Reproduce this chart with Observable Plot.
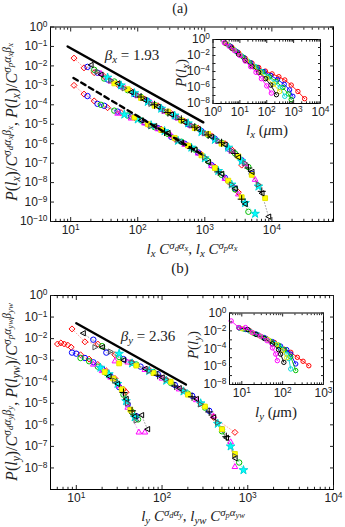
<!DOCTYPE html>
<html><head><meta charset="utf-8">
<script src="https://cdn.jsdelivr.net/npm/d3@7"></script>
<script src="https://cdn.jsdelivr.net/npm/@observablehq/plot@0.6"></script>
<style>
html,body{margin:0;padding:0;background:#fff;}
#wrap{position:relative;width:345px;height:527px;overflow:hidden;background:#fff;}
#wrap svg{position:absolute;overflow:visible;}
.lab{position:absolute;white-space:nowrap;font-family:"Liberation Serif","DejaVu Serif",serif;color:#222;line-height:1;}
.lab i{font-style:italic;}
.lab sub,.lab sup{font-size:72%;line-height:0;position:relative;vertical-align:baseline;}
.lab sup{top:-0.5em;}
.lab sub{top:0.3em;}
.lab sup sub{top:0.25em;font-size:78%;}
</style></head>
<body><div id="wrap"></div>
<script>
// ---------------- DATA: panel (a), upper collapse (sigma_p) ----------------
const aU_red = [[11.2,2.51e-2],[15.8,7.94e-3],[22.4,4.47e-3],[31.6,2.82e-3],[50.1,1.12e-3],[79.4,5.01e-4],[126,2.0e-4],[200,8.91e-5],[316,3.55e-5],[501,1.41e-5],[794,6.31e-6],[1259,2.51e-6],[1995,1.0e-6],[2512,5.01e-7],[3548,7.94e-8]];
const aU_blue = [[17.8,8.91e-3],[25.1,4.47e-3],[35.5,2.0e-3],[56.2,8.91e-4],[89.1,3.55e-4],[141,1.58e-4],[224,6.31e-5],[355,2.51e-5],[562,1.0e-5],[891,4.47e-6],[1413,1.78e-6],[2239,5.62e-7],[3548,1.41e-7],[5012,2.82e-8]];
const aU_green = [[22.4,6.31e-3],[31.6,2.24e-3],[44.7,1.58e-3],[70.8,5.62e-4],[112,2.51e-4],[178,1.0e-4],[282,3.98e-5],[447,1.58e-5],[708,7.08e-6],[1122,2.82e-6],[1778,1.12e-6],[2818,3.16e-7],[4467,6.31e-8]];
const aU_magenta = [[28.2,3.98e-3],[39.8,1.58e-3],[63.1,7.94e-4],[100,2.82e-4],[158,1.26e-4],[251,4.47e-5],[398,2.0e-5],[631,7.94e-6],[1000,3.16e-6],[1585,1.26e-6],[2512,3.98e-7],[3981,8.91e-8],[5623,1.41e-8]];
const aU_cyan = [[35.5,2.51e-3],[56.2,1.0e-3],[89.1,3.98e-4],[141,1.41e-4],[224,6.31e-5],[355,2.82e-5],[562,1.12e-5],[891,3.98e-6],[1413,1.58e-6],[2239,6.31e-7],[3548,1.26e-7],[6310,6.31e-9]];
const aU_yellow = [[44.7,1.26e-3],[70.8,6.31e-4],[112,2.24e-4],[178,8.91e-5],[282,4.47e-5],[447,1.58e-5],[708,6.31e-6],[1122,3.16e-6],[1778,1.0e-6],[3162,2.24e-7],[5012,2.51e-8],[7943,1.58e-9]];
const aU_blackL = [[20.0,1.12e-2],[28.2,3.55e-3],[50.1,1.26e-3],[79.4,4.47e-4],[126,1.78e-4],[200,7.94e-5],[316,3.16e-5],[501,1.26e-5],[794,5.62e-6],[1259,2.24e-6],[1995,8.91e-7],[3162,2.0e-7],[5012,3.55e-8],[7079,2.82e-9],[8913,1.78e-10]];
const aU_grayR = [[25.1,5.01e-3],[39.8,1.78e-3],[63.1,7.08e-4],[100,3.16e-4],[158,1.12e-4],[251,5.01e-5],[398,2.24e-5],[631,8.91e-6],[1000,3.55e-6],[1585,1.41e-6],[2512,4.47e-7],[3981,1.0e-7],[6310,7.94e-9]];
const aU_plus = [[112,2.51e-4],[178,1.0e-4],[282,3.98e-5],[447,1.78e-5],[708,7.08e-6],[1122,2.82e-6],[1778,1.12e-6],[2818,3.16e-7],[4467,5.62e-8],[7079,3.55e-9]];
// ---------------- panel (a), lower collapse (sigma_d) ----------------
const aL_red = [[11.2,1.0e-3],[15.8,3.55e-4],[22.4,1.58e-4],[35.5,7.08e-5],[56.2,3.98e-5],[89.1,2.24e-5],[141,1.0e-5],[224,5.62e-6],[355,1.78e-6],[562,7.94e-7],[891,2.82e-7],[1413,6.31e-8],[2239,1.12e-8],[3162,3.16e-9]];
const aL_blue = [[17.8,2.82e-4],[25.1,1.12e-4],[31.6,8.91e-5],[50.1,4.47e-5],[79.4,2.51e-5],[126,1.26e-5],[200,6.31e-6],[316,2.24e-6],[501,1.0e-6],[794,3.55e-7],[1259,7.94e-8],[1995,1.78e-8],[2818,5.01e-9]];
const aL_green = [[28.2,1.0e-4],[44.7,5.01e-5],[70.8,2.82e-5],[112,1.58e-5],[178,7.08e-6],[282,3.16e-6],[447,1.26e-6],[708,5.01e-7],[1122,1.26e-7],[1778,2.51e-8],[2818,4.47e-9],[4467,3.16e-10]];
const aL_magenta = [[50.1,3.55e-5],[79.4,2.0e-5],[126,1.12e-5],[200,5.62e-6],[316,2.51e-6],[501,8.91e-7],[794,3.16e-7],[1259,7.08e-8],[1995,1.58e-8],[3162,2.51e-9]];
const aL_cyan = [[63.1,3.16e-5],[100,1.78e-5],[158,8.91e-6],[251,4.47e-6],[398,1.41e-6],[631,6.31e-7],[1000,1.78e-7],[1585,3.98e-8],[2512,7.94e-9],[3981,8.91e-10],[5623,2.51e-10]];
const aL_yellow = [[89.1,2.24e-5],[141,1.0e-5],[224,5.01e-6],[355,2.0e-6],[562,7.94e-7],[891,2.51e-7],[1413,5.62e-8],[2239,1.26e-8],[3548,1.78e-9]];
const aL_blackL = [[112,1.58e-5],[178,7.94e-6],[282,3.55e-6],[447,1.12e-6],[708,5.01e-7],[1122,1.12e-7],[1778,2.82e-8],[2818,5.01e-9],[3981,7.94e-10]];
const aL_grayR = [[158,7.94e-6],[398,1.58e-6],[1000,2.0e-7],[2512,7.94e-9]];
const aL_plus = [[251,3.98e-6],[631,5.62e-7],[1585,3.55e-8],[3548,1.41e-9]];
// fitted power laws in (a)
const fitA_solid_x = [9, 950];
const fitA_solid_y = [0.1, 1.25e-5];
const fitA_dash_x = [11, 960];
const fitA_dash_y = [2.4e-3, 2.5e-7];
// ---------------- DATA: panel (b), upper collapse ----------------
const bU_red = [[8.91,2.82e-2],[12.6,7.08e-3],[17.8,5.62e-3],[28.2,1.78e-3],[44.7,7.94e-4],[70.8,3.55e-4],[112,1.26e-4],[178,3.98e-5],[282,1.0e-5],[398,2.24e-6],[708,4.47e-7]];
const bU_blue = [[15.8,8.91e-3],[22.4,2.24e-3],[35.5,1.12e-3],[56.2,5.01e-4],[89.1,2.24e-4],[141,7.08e-5],[224,2.24e-5],[355,4.47e-6],[501,6.31e-7]];
const bU_green = [[20.0,4.47e-3],[31.6,1.41e-3],[50.1,6.31e-4],[79.4,2.82e-4],[126,8.91e-5],[200,2.82e-5],[316,6.31e-6],[501,5.01e-7],[794,1.78e-8]];
const bU_magenta = [[28.2,8.91e-4],[39.8,7.94e-4],[63.1,3.55e-4],[100,1.41e-4],[158,4.47e-5],[251,1.41e-5],[398,2.51e-6],[631,1.58e-7],[708,1.12e-8]];
const bU_cyan = [[31.6,2.0e-3],[44.7,7.08e-4],[70.8,3.16e-4],[112,1.12e-4],[178,3.55e-5],[282,1.0e-5],[447,1.12e-6],[631,1.0e-7],[891,7.94e-9]];
const bU_yellow = [[31.6,7.08e-4],[50.1,5.62e-4],[79.4,2.51e-4],[126,1.0e-4],[200,2.51e-5],[316,7.08e-6],[501,6.31e-7],[708,4.47e-8]];
const bU_blackL = [[12.0,1.78e-2],[20.0,3.98e-3],[35.5,1.0e-3],[63.1,3.98e-4],[100,1.58e-4],[158,5.01e-5],[251,1.58e-5],[398,2.24e-6],[562,2.51e-7],[708,2.82e-8]];
const bU_grayR = [[16.6,3.98e-3],[25.1,2.51e-3],[44.7,7.94e-4],[70.8,3.16e-4],[112,1.26e-4],[178,3.98e-5],[282,8.91e-6],[447,1.26e-6],[708,3.55e-8]];
const bU_plus = [[89.1,2.0e-4],[141,6.31e-5],[224,2.0e-5],[355,3.98e-6],[562,2.82e-7]];
// ---------------- panel (b), lower collapse ----------------
const bL_red = [[6.03,5.62e-3],[6.61,6.31e-3],[7.24,5.62e-3],[7.94,5.01e-3],[8.71,3.98e-3],[11.2,1.78e-3],[14.1,1.12e-3],[17.8,6.31e-4],[22.4,3.16e-4],[28.2,1.41e-4],[35.5,4.47e-5],[38.0,3.24e-5],[44.7,3.55e-6]];
const bL_blue = [[8.91,2.24e-3],[10,2.0e-3],[12.6,1.26e-3],[15.8,7.94e-4],[20.0,3.98e-4],[25.1,1.78e-4],[31.6,5.62e-5],[39.8,8.91e-6],[50.1,2.51e-6]];
const bL_green = [[11.2,1.26e-3],[14.1,8.91e-4],[17.8,5.01e-4],[22.4,2.51e-4],[28.2,1.12e-4],[35.5,2.51e-5],[44.7,3.98e-6],[52.5,1.78e-6]];
const bL_magenta = [[15.8,6.31e-4],[20.0,3.16e-4],[25.1,1.58e-4],[31.6,6.31e-5],[39.8,6.31e-6],[53.7,4.47e-7],[63.1,4.47e-7]];
const bL_cyan = [[19.1,4.47e-4],[24.0,2.24e-4],[30.2,7.94e-5],[38.0,1.26e-5],[47.9,2.24e-6]];
const bL_yellow = [[21.4,2.82e-4],[26.9,1.41e-4],[33.9,4.47e-5],[42.7,5.01e-6]];
const bL_blackL = [[24.0,1.78e-4],[30.2,7.94e-5],[38.0,1.58e-5],[47.9,2.51e-6],[57.5,2.82e-6],[67.6,6.31e-7]];
const bL_grayR = [[28.2,1.12e-4],[39.8,1.0e-5],[50.1,1.58e-6]];
const bL_plus = [[35.5,3.16e-5],[44.7,4.47e-6]];
const fitB_solid_x = [10, 190];
const fitB_solid_y = [0.052, 7.4e-5];
// ---------------- inset (a): P(l_x) vs l_x (um) ----------------
const iA_red = [[5.01,0.112],[8.91,0.0224],[15.8,4.47e-3],[28.2,1.12e-3],[50.1,3.16e-4],[89.1,1.12e-4],[158,5.01e-5],[282,2.24e-5],[468,8.71e-6],[813,2.0e-6],[1445,3.16e-7],[2570,3.98e-8]];
const iA_blue = [[4.47,0.141],[7.94,0.0282],[14.1,5.62e-3],[25.1,1.26e-3],[44.7,3.16e-4],[79.4,1e-4],[141,3.16e-5],[251,1e-5],[447,2.51e-6],[708,5.01e-7],[933,7.94e-8]];
const iA_green = [[3.98,0.178],[7.08,0.0355],[12.6,7.08e-3],[22.4,1.41e-3],[39.8,3.55e-4],[70.8,8.91e-5],[126,2.24e-5],[224,5.62e-6],[398,1e-6],[631,1.58e-7],[813,3.16e-8]];
const iA_cyan = [[3.55,0.224],[6.31,0.0501],[11.2,0.01],[20,2.0e-3],[35.5,4.47e-4],[63.1,1e-4],[112,2.0e-5],[200,3.98e-6],[316,1e-6],[468,7.94e-8]];
const iA_yellow = [[3.16,0.282],[5.62,0.0631],[10,0.0126],[17.8,2.24e-3],[31.6,3.98e-4],[56.2,7.94e-5],[100,1.41e-5],[178,2.51e-6],[302,3.16e-7]];
const iA_black = [[2.82,0.355],[5.01,0.0794],[8.91,0.0141],[15.8,2.51e-3],[28.2,4.47e-4],[50.1,7.94e-5],[89.1,1.26e-5],[141,2.0e-6],[229,1.26e-7]];
const iA_magenta = [[2.63,0.398],[3.98,0.141],[6.31,0.0398],[10,0.01],[15.8,2.0e-3],[25.1,3.98e-4],[39.8,7.94e-5],[63.1,1.26e-5],[100,1.58e-6],[148,2.0e-7]];
// ---------------- inset (b): P(l_y) vs l_y (um) ----------------
const iB_red = [[15.8,0.01],[25.1,3.55e-3],[39.8,1.41e-3],[63.1,5.01e-4],[107,9.12e-5],[158,3.98e-5],[229,1.1e-5],[316,3.98e-6],[437,1.26e-6]];
const iB_blue = [[12.6,0.0141],[22.4,4.47e-3],[35.5,1.78e-3],[56.2,6.31e-4],[89.1,2.0e-4],[126,7.94e-5],[158,2.51e-5],[209,2.0e-6]];
const iB_green = [[11.2,0.0158],[20,5.01e-3],[31.6,2.0e-3],[50.1,7.08e-4],[79.4,2.51e-4],[112,7.94e-5],[158,1.26e-5],[209,3.63e-7]];
const iB_cyan = [[8.91,0.02],[15.8,8.91e-3],[25.1,3.55e-3],[39.8,1.26e-3],[63.1,3.98e-4],[89.1,1.26e-4],[126,2.51e-5],[141,7.94e-6],[158,5.5e-7]];
const iB_yellow = [[10,0.0178],[17.8,6.31e-3],[28.2,2.51e-3],[44.7,1e-3],[70.8,2.82e-4],[100,6.31e-5],[126,1e-5]];
const iB_black = [[8.51,0.0224],[14.1,0.0141],[22.4,3.98e-3],[35.5,1.41e-3],[56.2,3.55e-4],[79.4,7.94e-5],[89.1,2.51e-5],[107,3.02e-6]];
const iB_magenta = [[5.5,0.129],[8.51,0.0234],[12.3,0.0234],[18.2,6.46e-3],[28.8,2.51e-3],[41.7,7.94e-4],[56.2,1.26e-4],[67.6,2.51e-5],[74.1,4.68e-6]];
// ---------------- tick values ----------------
const xTicksA = [10, 100, 1000, 10000];
const yTicksA = [1, 1e-1, 1e-2, 1e-3, 1e-4, 1e-5, 1e-6, 1e-7, 1e-8, 1e-9, 1e-10];
const xTicksB = [10, 100, 1000, 10000];
const yTicksB = [1, 1e-1, 1e-2, 1e-3, 1e-4, 1e-5, 1e-6, 1e-7, 1e-8];
const xTicksInA = [1, 10, 100, 1000, 10000];
const yTicksInA = [1, 1e-2, 1e-4, 1e-6, 1e-8];
const xTicksInB = [10, 100, 1000];
const yTicksInB = [1, 1e-2, 1e-4, 1e-6, 1e-8];
const yDecadesIn = [1, 1e-1, 1e-2, 1e-3, 1e-4, 1e-5, 1e-6, 1e-7, 1e-8];

// ---------------- styles ----------------
const triLeft = {draw(ctx, size){const r=Math.sqrt(size/3); ctx.moveTo(-r,0); ctx.lineTo(r*0.8,-r*0.95); ctx.lineTo(r*0.8,r*0.95); ctx.closePath();}};
const triRight = {draw(ctx, size){const r=Math.sqrt(size/3); ctx.moveTo(r,0); ctx.lineTo(-r*0.8,-r*0.95); ctx.lineTo(-r*0.8,r*0.95); ctx.closePath();}};
const styles = {
  red:{symbol:"diamond2", stroke:"#ff0000", fill:"none"},
  blue:{symbol:"circle", stroke:"#0000ff", fill:"none"},
  green:{symbol:"circle", stroke:"#00c000", fill:"none"},
  magenta:{symbol:"triangle2", stroke:"#ff00ff", fill:"none"},
  cyan:{symbol:"star", stroke:"#00d8d8", fill:"#00ffff"},
  yellow:{symbol:"square", stroke:"#e6e600", fill:"#ffff00"},
  blackL:{symbol:triLeft, stroke:"#000000", fill:"none"},
  grayR:{symbol:triRight, stroke:"#555555", fill:"none"},
  plus:{symbol:"plus", stroke:"#000000", fill:"none"},
  black:{symbol:"circle", stroke:"#000000", fill:"none"}
};
const groupAU = [["red",aU_red],["blue",aU_blue],["green",aU_green],["magenta",aU_magenta],["cyan",aU_cyan],["yellow",aU_yellow],["blackL",aU_blackL],["grayR",aU_grayR],["plus",aU_plus]];
const groupAL = [["red",aL_red],["blue",aL_blue],["green",aL_green],["magenta",aL_magenta],["cyan",aL_cyan],["yellow",aL_yellow],["blackL",aL_blackL],["grayR",aL_grayR],["plus",aL_plus]];
const groupBU = [["red",bU_red],["blue",bU_blue],["green",bU_green],["magenta",bU_magenta],["cyan",bU_cyan],["yellow",bU_yellow],["blackL",bU_blackL],["grayR",bU_grayR],["plus",bU_plus]];
const groupBL = [["red",bL_red],["blue",bL_blue],["green",bL_green],["magenta",bL_magenta],["cyan",bL_cyan],["yellow",bL_yellow],["blackL",bL_blackL],["grayR",bL_grayR],["plus",bL_plus]];
const groupIA = [["red",iA_red],["blue",iA_blue],["green",iA_green],["cyan",iA_cyan],["yellow",iA_yellow],["black",iA_black],["magenta",iA_magenta]];
const groupIB = [["red",iB_red],["blue",iB_blue],["green",iB_green],["cyan",iB_cyan],["yellow",iB_yellow],["black",iB_black],["magenta",iB_magenta]];

const X = d => d[0], Y = d => d[1];
function scatter(group, r){
  const m = [];
  for (const [k, d] of group) m.push(Plot.line(d, {x:X, y:Y, stroke:styles[k].stroke, strokeWidth:0.6, strokeDasharray:"1,2", strokeOpacity:0.6}));
  for (const [k, d] of group) m.push(Plot.dot(d, {x:X, y:Y, symbol:styles[k].symbol, stroke:styles[k].stroke, fill:styles[k].fill, r, strokeWidth:1}));
  return m;
}
function insetMarks(group){
  const m = [];
  for (const [k, d] of group) {
    m.push(Plot.line(d, {x:X, y:Y, stroke:styles[k].stroke, strokeWidth:0.9}));
    m.push(Plot.dot(d, {x:X, y:Y, symbol:"circle", stroke:styles[k].stroke, fill:"none", r:2.2, strokeWidth:1}));
  }
  return m;
}
const fmt = d => "10^" + String(Math.round(Math.log10(d))).replace("-", "\u2212");
const blank = () => "";
function minorTicks(lo, hi){
  const out = [];
  for (let e = Math.floor(Math.log10(lo)); e <= Math.ceil(Math.log10(hi)); e++)
    for (let k = 2; k <= 9; k++) { const v = k * Math.pow(10, e); if (v > lo && v < hi) out.push(v); }
  return out;
}
function axes({xMajor, xMinor, yMajor, xLab, yLab, tick, fs}){
  const m = [];
  for (const a of ["bottom","top"]) {
    m.push(Plot.axisX(xMajor, {anchor:a, tickSize:-tick, tickFormat:blank, label:null}));
    if (xMinor) m.push(Plot.axisX(xMinor, {anchor:a, tickSize:-tick*0.55, tickFormat:blank, label:null}));
  }
  for (const a of ["left","right"]) m.push(Plot.axisY(yMajor, {anchor:a, tickSize:-tick, tickFormat:blank, label:null}));
  m.push(Plot.axisX(xLab, {anchor:"bottom", tickSize:0, tickPadding:4, tickFormat:fmt, label:null, fontSize:fs}));
  m.push(Plot.axisY(yLab, {anchor:"left", tickSize:0, tickPadding:3, tickFormat:fmt, label:null, fontSize:fs}));
  return m;
}
function supTicks(svg){
  svg.querySelectorAll("text").forEach(t => {
    const m = /^10\^(.+)$/.exec(t.textContent);
    if (m) {
      t.textContent = "10";
      const ts = document.createElementNS("http://www.w3.org/2000/svg", "tspan");
      ts.setAttribute("dy", "-0.5em");
      ts.setAttribute("font-size", "0.7em");
      ts.textContent = m[1];
      t.appendChild(ts);
    }
  });
}
const baseStyle = {fontFamily:"'Liberation Sans','DejaVu Sans',sans-serif", fontSize:"12px", color:"#222", background:"transparent", overflow:"visible"};
const wrap = document.getElementById("wrap");
function place(svg, left, top){ supTicks(svg); svg.style.left = left + "px"; svg.style.top = top + "px"; wrap.appendChild(svg); }

// ---------------- panel (a) ----------------
const xDomA = [5, 8.3e4];
const plotA = Plot.plot({
  width:345, height:262, marginTop:26.5, marginBottom:41, marginLeft:50, marginRight:12,
  x:{type:"log", domain:xDomA}, y:{type:"log", domain:[1e-10, 1]},
  style: baseStyle,
  marks: [
    ...scatter(groupAL, 2.7), ...scatter(groupAU, 2.7),
    Plot.line(fitA_solid_x.map((x,i)=>[x, fitA_solid_y[i]]), {x:X, y:Y, stroke:"#000", strokeWidth:2.4}),
    Plot.line(fitA_dash_x.map((x,i)=>[x, fitA_dash_y[i]]), {x:X, y:Y, stroke:"#000", strokeWidth:2.4, strokeDasharray:"5,4"}),
    Plot.frame({stroke:"#000", strokeWidth:1}),
    ...axes({xMajor:xTicksA, xMinor:minorTicks(...xDomA), yMajor:yTicksA, xLab:xTicksA, yLab:yTicksA, tick:4, fs:12})
  ]
});
place(plotA, 0, 0);

const xDomIA = [1, 1e4];
const insetA = Plot.plot({
  width:146, height:92, marginTop:9, marginBottom:19, marginLeft:26.5, marginRight:12,
  x:{type:"log", domain:xDomIA}, y:{type:"log", domain:[1e-8, 1]},
  style: baseStyle,
  marks: [
    Plot.frame({fill:"white", stroke:null}),
    ...insetMarks(groupIA),
    Plot.frame({stroke:"#000", strokeWidth:1}),
    ...axes({xMajor:xTicksInA, xMinor:minorTicks(...xDomIA), yMajor:yDecadesIn, xLab:xTicksInA, yLab:yTicksInA, tick:3, fs:12})
  ]
});
place(insetA, 186, 30);

// ---------------- panel (b) ----------------
const xDomB = [5, 1e4];
const plotB = Plot.plot({
  width:345, height:264, marginTop:33, marginBottom:37, marginLeft:50, marginRight:12,
  x:{type:"log", domain:xDomB}, y:{type:"log", domain:[1e-9, 1]},
  style: baseStyle,
  marks: [
    ...scatter(groupBL, 2.7), ...scatter(groupBU, 2.7),
    Plot.line(fitB_solid_x.map((x,i)=>[x, fitB_solid_y[i]]), {x:X, y:Y, stroke:"#000", strokeWidth:2.4}),
    Plot.frame({stroke:"#000", strokeWidth:1}),
    ...axes({xMajor:xTicksB, xMinor:minorTicks(...xDomB), yMajor:yTicksB, xLab:xTicksB, yLab:yTicksB, tick:4, fs:12})
  ]
});
place(plotB, 0, 262);

const xDomIB = [5, 1000];
const insetB = Plot.plot({
  width:146, height:104, marginTop:12.5, marginBottom:20, marginLeft:43, marginRight:9,
  x:{type:"log", domain:xDomIB}, y:{type:"log", domain:[1e-8, 1]},
  style: baseStyle,
  marks: [
    Plot.frame({fill:"white", stroke:null}),
    ...insetMarks(groupIB),
    Plot.frame({stroke:"#000", strokeWidth:1}),
    ...axes({xMajor:xTicksInB, xMinor:minorTicks(...xDomIB), yMajor:yDecadesIn, xLab:xTicksInB, yLab:yTicksInB, tick:3, fs:12})
  ]
});
place(insetB, 186, 300);

// ---------------- text labels ----------------
function label(html, cx, cy, size, rot){
  const d = document.createElement("div");
  d.className = "lab";
  d.style.left = cx + "px"; d.style.top = cy + "px"; d.style.fontSize = size + "px";
  d.style.transform = "translate(-50%,-50%)" + (rot ? " rotate(-90deg)" : "");
  d.innerHTML = html;
  wrap.appendChild(d);
}
const I = s => "<i>" + s + "</i>";
label("(a)", 180, 9, 14, false);
label("(b)", 180, 268, 15, false);
label(I("l") + "<sub>" + I("x") + "</sub> " + I("C") + "<sup>" + I("σ") + "<sub>" + I("d") + "</sub>" + I("α") + "<sub>" + I("x") + "</sub></sup>, " + I("l") + "<sub>" + I("x") + "</sub> " + I("C") + "<sup>" + I("σ") + "<sub>" + I("p") + "</sub>" + I("α") + "<sub>" + I("x") + "</sub></sup>", 192, 249, 15, false);
label(I("P") + "(" + I("l") + "<sub>" + I("x") + "</sub>)/" + I("C") + "<sup>" + I("σ") + "<sub>" + I("d") + "</sub>" + I("α") + "<sub>" + I("x") + "</sub>" + I("β") + "<sub>" + I("x") + "</sub></sup>, " + I("P") + "(" + I("l") + "<sub>" + I("x") + "</sub>)/" + I("C") + "<sup>" + I("σ") + "<sub>" + I("p") + "</sub>" + I("α") + "<sub>" + I("x") + "</sub>" + I("β") + "<sub>" + I("x") + "</sub></sup>", 12, 122, 16, true);
label(I("β") + "<sub>" + I("x") + "</sub> = 1.93", 132, 55, 15, false);
label(I("l") + "<sub>" + I("x") + "</sub> (" + I("μ") + "m)", 267, 130, 15, false);
label(I("P") + "(" + I("l") + "<sub>" + I("x") + "</sub>)", 181, 73, 15, true);

label(I("l") + "<sub>" + I("y") + "</sub> " + I("C") + "<sup>" + I("σ") + "<sub>" + I("d") + "</sub>" + I("α") + "<sub>" + I("y") + "</sub></sup>, " + I("l") + "<sub>" + I("yw") + "</sub> " + I("C") + "<sup>" + I("σ") + "<sub>" + I("p") + "</sub>" + I("α") + "<sub>" + I("yw") + "</sub></sup>", 193, 516, 15, false);
label(I("P") + "(" + I("l") + "<sub>" + I("y") + "</sub>)/" + I("C") + "<sup>" + I("σ") + "<sub>" + I("d") + "</sub>" + I("α") + "<sub>" + I("y") + "</sub>" + I("β") + "<sub>" + I("y") + "</sub></sup>, " + I("P") + "(" + I("l") + "<sub>" + I("yw") + "</sub>)/" + I("C") + "<sup>" + I("σ") + "<sub>" + I("p") + "</sub>" + I("α") + "<sub>" + I("yw") + "</sub>" + I("β") + "<sub>" + I("yw") + "</sub></sup>", 12, 392, 16, true);
label(I("β") + "<sub>" + I("y") + "</sub> = 2.36", 148, 336, 15, false);
label(I("l") + "<sub>" + I("y") + "</sub> (" + I("μ") + "m)", 276, 412, 15, false);
label(I("P") + "(" + I("l") + "<sub>" + I("y") + "</sub>)", 193, 345, 15, true);
</script>
</body></html>
